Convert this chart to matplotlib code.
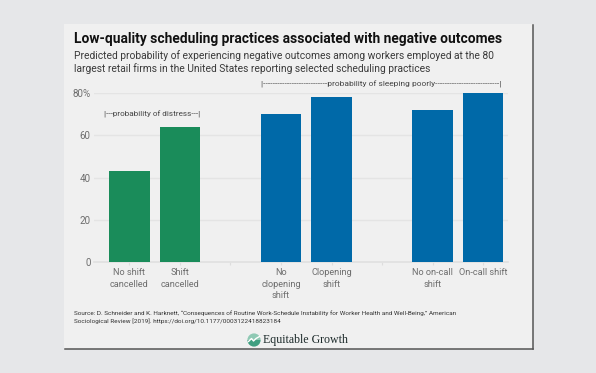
import matplotlib
matplotlib.use("Agg")
import matplotlib.pyplot as plt
from matplotlib.patches import Rectangle, Wedge

categories = ["No shift\ncancelled", "Shift\ncancelled", "", "No\nclopening\nshift", "Clopening\nshift", "", "No on-call\nshift", "On-call shift"]
values = [43, 64, 0, 70, 78, 0, 72, 80]
colors = ["#1a8c5a", "#1a8c5a", "#ffffff", "#0069a8", "#0069a8", "#ffffff", "#0069a8", "#0069a8"]
yticks = [0, 20, 40, 60, 80]
yticklabels = ["0", "20", "40", "60", "80%"]
title = "Low-quality scheduling practices associated with negative outcomes"
subtitle = ("Predicted probability of experiencing negative outcomes among workers employed at the 80\n"
            "largest retail firms in the United States reporting selected scheduling practices")
source = ("Source: D. Schneider and K. Harknett, \u201cConsequences of Routine Work-Schedule Instability for Worker Health and Well-Being,\u201d American\n"
          "Sociological Review [2019]. https://doi.org/10.1177/0003122418823184")
distress = "|---probability of distress---|"
sleeping = "|" + "-" * 27 + "probability of sleeping poorly" + "-" * 27 + "|"

W, H = 596, 373
FONT = "Roboto"
fig = plt.figure(figsize=(W / 100, H / 100), dpi=100, facecolor="#e6e7e9")

bg = fig.add_axes([0, 0, 1, 1], zorder=0)
bg.set_xlim(0, W); bg.set_ylim(H, 0); bg.axis("off")
bg.add_patch(Rectangle((64, 24), 469, 325, fc="#f0f0f0", ec="none"))
bg.plot([533, 533], [25, 349], color="#555555", lw=1.1)
bg.plot([65, 533], [348.7, 348.7], color="#555555", lw=1.1)

bg.text(74.5, 39, title, fontsize=9.95, fontweight="bold", family=FONT, color="#111111", va="center", ha="left")
bg.text(74.5, 62, subtitle, fontsize=7.42, family=FONT, color="#3a3a3a", va="center", ha="left", linespacing=1.25)
bg.text(74.5, 317, source, fontsize=4.56, family=FONT, color="#333333", va="center", ha="left", linespacing=1.34)

# logo
bg.add_patch(Wedge((254, 340), 6.6, 180, 360, fc="#8fc9b4", ec="none"))
bg.add_patch(Wedge((254, 340), 6.6, 0, 180, fc="#3f9e80", ec="none"))
bg.plot([248.5, 251.5, 253.5, 256, 259.5], [341.5, 338.5, 341, 338.5, 336.5], color="white", lw=1)
bg.text(263, 339.5, "Equitable Growth", fontsize=8.55, family="Liberation Serif", color="#1c2a2a", va="center", ha="left")

x0, x1, ytop, ybot = 94, 508, 93, 262
ax = fig.add_axes([x0 / W, 1 - ybot / H, (x1 - x0) / W, (ybot - ytop) / H], zorder=1)
ax.patch.set_alpha(0)
ax.set_xlim(-0.7, 7.49)
ax.set_ylim(0, 80)
positions = list(range(len(categories)))
for p, v, c in zip(positions, values, colors):
    if v:
        ax.bar(p, v, width=0.8, color=c, zorder=3, clip_on=False)
ax.set_axisbelow(True)
ax.yaxis.grid(True, color="#e4e4e4", lw=1)
ax.set_yticks(yticks, yticklabels, family=FONT, fontsize=7.1, color="#6e6e6e")
ax.set_xticks(positions, categories, family=FONT, fontsize=6.6, color="#6e6e6e", linespacing=1.33)
ax.tick_params(axis="y", length=0, pad=2.5)
ax.tick_params(axis="x", length=2.5, width=0.8, color="#dddddd", pad=2)
for s in ["top", "right", "left"]:
    ax.spines[s].set_visible(False)
ax.spines["bottom"].set_color("#e0e0e0")
ax.spines["bottom"].set_linewidth(1.2)

bg.text(103.5, 114.5, distress, fontsize=5.9, family=FONT, color="#444444", va="center", ha="left", zorder=5)
bg.text(381.5, 84.5, sleeping, fontsize=6.0, family=FONT, color="#444444", va="center", ha="center", zorder=5)

fig.savefig("out.png", dpi=100, facecolor=fig.get_facecolor())
